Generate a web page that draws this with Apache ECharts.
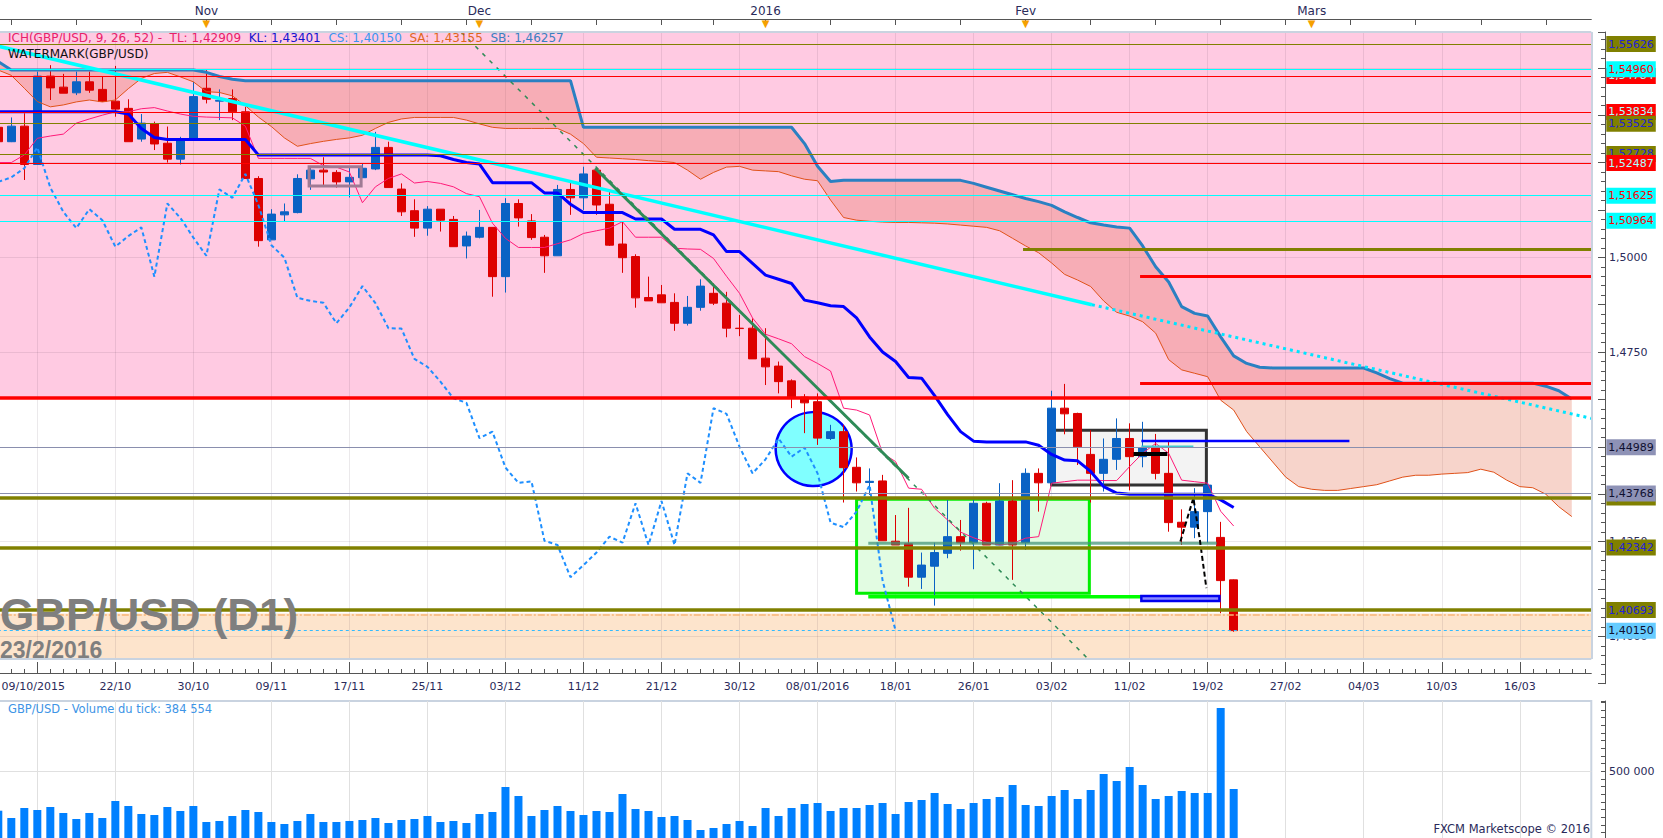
<!DOCTYPE html>
<html><head><meta charset="utf-8">
<script src="https://cdn.jsdelivr.net/npm/echarts@6.0.0/dist/echarts.min.js"></script>
<style>html,body{margin:0;padding:0;background:#fff}#c{width:1663px;height:838px}</style>
</head><body><div id="c"></div>
<script>
// ---------------- DATA ----------------
const dates = ['09/10','12/10','13/10','14/10','15/10','16/10','19/10','20/10','21/10','22/10',
'23/10','26/10','27/10','28/10','29/10','30/10','02/11','03/11','04/11','05/11',
'06/11','09/11','10/11','11/11','12/11','13/11','16/11','17/11','18/11','19/11',
'20/11','23/11','24/11','25/11','26/11','27/11','30/11','01/12','02/12','03/12',
'04/12','07/12','08/12','09/12','10/12','11/12','14/12','15/12','16/12','17/12',
'18/12','21/12','22/12','23/12','24/12','28/12','29/12','30/12','31/12','04/01',
'05/01','06/01','07/01','08/01','11/01','12/01','13/01','14/01','15/01','18/01',
'19/01','20/01','21/01','22/01','25/01','26/01','27/01','28/01','29/01','01/02',
'02/02','03/02','04/02','05/02','08/02','09/02','10/02','11/02','12/02','15/02',
'16/02','17/02','18/02','19/02','22/02','23/02'];

const open = [1.5343,1.5305,1.5346,1.5245,1.5478,1.5449,1.5434,1.5463,1.5443,1.5412,
1.5393,1.5312,1.5352,1.5301,1.5259,1.5311,1.5446,1.5412,1.5419,1.5384,
1.5208,1.5046,1.5112,1.5118,1.5207,1.5230,1.5224,1.5199,1.5210,1.5233,
1.5290,1.5180,1.5123,1.5077,1.5127,1.5100,1.5030,1.5053,1.5079,1.4949,
1.5142,1.5096,1.5053,1.5004,1.5179,1.5157,1.5230,1.5140,1.5035,1.5002,
1.4894,1.4901,1.4881,1.4826,1.4868,1.4905,1.4879,1.4813,1.4813,1.4734,
1.4713,1.4674,1.4631,1.4619,1.4522,1.4540,1.4446,1.4406,1.4410,1.4251,
1.4244,1.4156,1.4185,1.4219,1.4263,1.4247,1.4351,1.4241,1.4357,1.4247,
1.4430,1.4405,1.4602,1.4588,1.4480,1.4430,1.4467,1.4522,1.4474,1.4498,
1.4430,1.4301,1.4288,1.4329,1.4261,1.4149];

const close = [1.5305,1.5346,1.5245,1.5478,1.5447,1.5433,1.5463,1.5441,1.5411,1.5391,
1.5305,1.5354,1.5299,1.5259,1.5309,1.5424,1.5417,1.5414,1.5384,1.5208,
1.5044,1.5114,1.5120,1.5208,1.5230,1.5225,1.5199,1.5211,1.5235,1.5290,
1.5184,1.5120,1.5077,1.5127,1.5098,1.5028,1.5056,1.5079,1.4949,1.5142,
1.5104,1.5052,1.5004,1.5179,1.5157,1.5220,1.5138,1.5032,1.4999,1.4893,
1.4885,1.4880,1.4826,1.4868,1.4924,1.4879,1.4813,1.4812,1.4732,1.4711,
1.4672,1.4628,1.4616,1.4523,1.4540,1.4445,1.4405,1.4409,1.4252,1.4241,
1.4156,1.4188,1.4221,1.4263,1.4247,1.4351,1.4241,1.4357,1.4241,1.4430,
1.4405,1.4602,1.4587,1.4500,1.4430,1.4467,1.4522,1.4474,1.4498,1.4430,
1.4300,1.4288,1.4329,1.4399,1.4147,1.4015];

const high = [1.5365,1.5369,1.5380,1.5490,1.5507,1.5484,1.5490,1.5490,1.5477,1.5505,
1.5417,1.5378,1.5358,1.5345,1.5318,1.5463,1.5494,1.5443,1.5443,1.5397,
1.5214,1.5127,1.5142,1.5219,1.5241,1.5264,1.5230,1.5239,1.5246,1.5331,
1.5305,1.5195,1.5153,1.5135,1.5127,1.5109,1.5068,1.5125,1.5079,1.5156,
1.5153,1.5114,1.5059,1.5191,1.5199,1.5239,1.5230,1.5179,1.5094,1.5008,
1.4949,1.4927,1.4905,1.4898,1.4942,1.4931,1.4909,1.4848,1.4839,1.4813,
1.4725,1.4678,1.4639,1.4641,1.4558,1.4558,1.4472,1.4443,1.4426,1.4320,
1.4339,1.4221,1.4247,1.4360,1.4307,1.4361,1.4355,1.4404,1.4412,1.4443,
1.4443,1.4648,1.4666,1.4590,1.4544,1.4522,1.4575,1.4562,1.4566,1.4534,
1.4513,1.4335,1.4391,1.4408,1.4302,1.4150];

const low = [1.5290,1.5304,1.5204,1.5244,1.5415,1.5433,1.5428,1.5434,1.5410,1.5371,
1.5305,1.5305,1.5283,1.5250,1.5245,1.5311,1.5406,1.5362,1.5362,1.5208,
1.5028,1.5046,1.5094,1.5116,1.5178,1.5186,1.5184,1.5158,1.5210,1.5230,
1.5184,1.5109,1.5054,1.5057,1.5068,1.5028,1.4997,1.5050,1.4896,1.4907,
1.5081,1.5046,1.4959,1.5004,1.5112,1.5125,1.5112,1.5030,1.4959,1.4867,
1.4885,1.4880,1.4806,1.4820,1.4859,1.4874,1.4789,1.4792,1.4732,1.4663,
1.4641,1.4602,1.4536,1.4505,1.4518,1.4353,1.4382,1.4373,1.4252,1.4241,
1.4131,1.4125,1.4081,1.4206,1.4226,1.4177,1.4241,1.4241,1.4149,1.4228,
1.4329,1.4405,1.4533,1.4452,1.4353,1.4382,1.4439,1.4385,1.4446,1.4414,
1.4276,1.4241,1.4259,1.4247,1.4061,1.4012];

const volume = [243200,195600,260800,247800,267300,228200,189100,228200,195600,306400,
273800,221700,215200,267300,241200,273800,169500,176000,208600,247800,
234700,169500,156500,176000,221700,169500,169500,176000,182600,195600,
163000,182600,189100,208600,169500,176000,163000,221700,234700,397700,
339000,208600,247800,273800,241200,215200,241200,234700,352100,254300,
241200,202100,208600,182600,117400,130400,156500,176000,143400,260800,
208600,260800,286900,293400,241200,260800,260800,280400,293400,221700,
299900,313000,358600,286900,254300,293400,319500,332500,410800,280400,
273800,339000,378200,319500,378200,482500,436800,528100,410800,319500,
339000,371600,358600,358600,912800,384554];

// Ichimoku
const tenkan = [1.5250,1.5250,1.5270,1.5314,1.5320,1.5325,1.5354,1.5365,1.5375,1.5384,
1.5384,1.5392,1.5395,1.5386,1.5378,1.5372,1.5370,1.5369,1.5368,1.5346,
1.5261,1.5261,1.5261,1.5261,1.5261,1.5242,1.5238,1.5225,1.5144,1.5186,
1.5208,1.5220,1.5196,1.5200,1.5195,1.5186,1.5168,1.5160,1.5090,1.5050,
1.5026,1.5026,1.5026,1.5036,1.5046,1.5063,1.5070,1.5077,1.5094,1.5053,
1.5053,1.5053,1.5024,1.5022,1.5021,1.4997,1.4950,1.4905,1.4840,1.4797,
1.4785,1.4772,1.4738,1.4720,1.4700,1.4602,1.4597,1.4584,1.4483,1.4461,
1.4391,1.4388,1.4338,1.4307,1.4275,1.4260,1.4248,1.4241,1.4245,1.4259,
1.4263,1.4404,1.4408,1.4412,1.4412,1.4411,1.4411,1.4448,1.4483,1.4509,
1.4483,1.4412,1.4408,1.4404,1.4330,1.4291];

const kijun = [1.5384,1.5384,1.5384,1.5384,1.5384,1.5384,1.5384,1.5384,1.5384,1.5384,
1.5378,1.5340,1.5316,1.5311,1.5311,1.5311,1.5311,1.5311,1.5311,1.5311,
1.5270,1.5270,1.5270,1.5270,1.5270,1.5270,1.5270,1.5270,1.5270,1.5270,
1.5270,1.5270,1.5270,1.5270,1.5268,1.5258,1.5250,1.5246,1.5197,1.5197,
1.5197,1.5197,1.5170,1.5170,1.5140,1.5118,1.5118,1.5118,1.5118,1.5101,
1.5101,1.5101,1.5074,1.5074,1.5074,1.5059,1.5015,1.5015,1.4984,1.4953,
1.4942,1.4931,1.4887,1.4880,1.4872,1.4870,1.4840,1.4790,1.4750,1.4725,
1.4683,1.4681,1.4635,1.4585,1.4540,1.4515,1.4513,1.4513,1.4513,1.4513,
1.4504,1.4480,1.4465,1.4463,1.4435,1.4395,1.4378,1.4375,1.4375,1.4375,
1.4375,1.4375,1.4375,1.4375,1.4360,1.4340];

const chikou = [1.5199,1.5211,1.5235,1.5290,1.5184,1.5120,1.5077,1.5127,1.5098,1.5028,
1.5056,1.5079,1.4949,1.5142,1.5104,1.5052,1.5004,1.5179,1.5157,1.5220,
1.5138,1.5032,1.4999,1.4893,1.4885,1.4880,1.4826,1.4868,1.4924,1.4879,
1.4813,1.4812,1.4732,1.4711,1.4672,1.4628,1.4616,1.4523,1.4540,1.4445,
1.4405,1.4409,1.4252,1.4241,1.4156,1.4188,1.4221,1.4263,1.4247,1.4351,
1.4241,1.4357,1.4241,1.4430,1.4405,1.4602,1.4587,1.4500,1.4430,1.4467,
1.4522,1.4474,1.4498,1.4430,1.4300,1.4288,1.4329,1.4399,1.4147,1.4015];

const spanA = [1.5494,1.5480,1.5446,1.5411,1.5397,1.5402,1.5410,1.5415,1.5410,1.5415,
1.5445,1.5472,1.5485,1.5488,1.5476,1.5463,1.5437,1.5435,1.5426,1.5400,
1.5370,1.5345,1.5315,1.5293,1.5300,1.5306,1.5311,1.5315,1.5322,1.5340,
1.5356,1.5365,1.5369,1.5369,1.5369,1.5369,1.5362,1.5352,1.5343,1.5340,
1.5340,1.5340,1.5340,1.5340,1.5325,1.5300,1.5264,1.5262,1.5260,1.5258,
1.5255,1.5253,1.5250,1.5230,1.5206,1.5224,1.5238,1.5240,1.5230,1.5228,
1.5226,1.5215,1.5206,1.5202,1.5151,1.5105,1.5098,1.5095,1.5093,1.5092,
1.5092,1.5091,1.5090,1.5088,1.5085,1.5082,1.5079,1.5070,1.5050,1.5030,
1.5012,1.4985,1.4955,1.4940,1.4923,1.4885,1.4855,1.4845,1.4830,1.4800,
1.4730,1.4703,1.4694,1.4685,1.4623,1.4597,1.4540,1.4500,1.4460,1.4420,
1.4395,1.4388,1.4385,1.4385,1.4390,1.4395,1.4400,1.4410,1.4420,1.4425,
1.4425,1.4428,1.4430,1.4432,1.4441,1.4433,1.4412,1.4395,1.4392,1.4375,
1.4342,1.4316];

const spanB = [1.5516,1.5494,1.5494,1.5494,1.5494,1.5494,1.5494,1.5494,1.5494,1.5494,
1.5494,1.5494,1.5494,1.5494,1.5494,1.5494,1.5488,1.5477,1.5470,1.5466,
1.5466,1.5466,1.5466,1.5466,1.5466,1.5466,1.5466,1.5466,1.5466,1.5466,
1.5466,1.5466,1.5466,1.5466,1.5466,1.5466,1.5466,1.5466,1.5466,1.5466,
1.5466,1.5466,1.5466,1.5466,1.5466,1.5343,1.5343,1.5343,1.5343,1.5343,
1.5343,1.5343,1.5343,1.5343,1.5343,1.5343,1.5343,1.5343,1.5343,1.5343,
1.5343,1.5343,1.5300,1.5240,1.5200,1.5203,1.5203,1.5203,1.5203,1.5203,
1.5203,1.5203,1.5203,1.5203,1.5203,1.5195,1.5185,1.5175,1.5165,1.5155,
1.5147,1.5137,1.5120,1.5105,1.5091,1.5085,1.5080,1.5077,1.5030,1.4975,
1.4935,1.4870,1.4852,1.4845,1.4790,1.4740,1.4720,1.4710,1.4708,1.4708,
1.4708,1.4708,1.4708,1.4708,1.4708,1.4708,1.4695,1.4680,1.4668,1.4668,
1.4668,1.4668,1.4668,1.4668,1.4668,1.4668,1.4668,1.4668,1.4668,1.4660,
1.4648,1.4626];

// horizontal levels (with right-hand labels)
const levelValues = [1.55626,1.54784,1.54960,1.53834,1.53525,1.52728,1.52487,1.51625,1.50964,1.44989,1.43665,1.43768,1.42342,1.40693,1.40150];
const levelKinds  = ['olive','red','cyan','red','olive','olive','red','cyan','cyan','grey','oliveThick','grey','oliveThick','oliveThick','current'];

// axis labels
const bottomLabelIdx = [0,9,15,21,27,33,39,45,51,57,63,69,75,81,87,93,99,105,111,117];
const bottomLabelText = ['09/10/2015','22/10','30/10','09/11','17/11','25/11','03/12','11/12','21/12','30/12','08/01/2016','18/01','26/01','03/02','11/02','19/02','27/02','04/03','10/03','16/03'];
const priceTickLabels = [1.4, 1.425, 1.475, 1.5];
const monthIdx = [16,37,59,79,101];
const monthText = ['Nov','Dec','2016','Fev','Mars'];
const weekIdx = [1,6,11,16,21,26,31,36,41,46,51,55,59,64,69,74,79,84,89,94,99,104,109,114,119];
const gridIdx = [3,9,15,21,27,33,39,45,51,57,63,69,75,81,87,93,99,105,111,117];

// drawn annotations (in bar index / price units)
const cyanTrend = [[-0.5,1.5561],[84.1,1.4875]];
const cyanTrendExt = [[84.1,1.4875],[122.5,1.4575]];
const greenDashed = [[35.6,1.5594],[83.7,1.3944]];
const greenSolid = [[45.9,1.5235],[70.0,1.4417]];
const zigzag = [[90.9,1.4250],[91.9,1.4365],[92.4,1.4254],[92.9,1.4127]];
const circleAt = [62.7,1.4494];
const greyBox = [[81.0,1.4544],[92.9,1.4399]];
const greenBox = [[66.0,1.43615],[83.9,1.41135]];
const blueBox = [[87.9,1.41063],[93.9,1.40931]];
const smallBox = [[23.9,1.5239],[27.9,1.5188]];
const segBlack = [[87.3,1.4481],[89.9,1.4481]];
const segTeal = [[87.9,1.4500],[91.9,1.4500]];
const segBlue = [[87.9,1.45153],[103.9,1.45153]];
const segLime = [[66.9,1.41045],[87.9,1.41045]];
const segSea = [[66.9,1.42454],[93.7,1.42454]];

// ---------------- CHART ----------------
const NCAT = 123;
const cats = [];
for (let i = 0; i < NCAT; i++) cats.push(i < dates.length ? dates[i] : ('+' + (i - dates.length + 1)));
const YMIN = 1.3875, YMAX = 1.559446, PLOT_BOTTOM = 1.39401;
const FONT = 'DejaVu Sans';
const AXC = '#2a2a5a';

const chart = echarts.init(document.getElementById('c'), null, {renderer: 'svg', width: 1663, height: 838});

const levelStyle = {
  olive: {line:'#808000', w:1, bg:'#808000', fg:'#2323d8'},
  oliveThick: {line:'#808000', w:3.5, bg:'#808000', fg:'#2323d8'},
  red: {line:'#ff0000', w:1, bg:'#ff0000', fg:'#aaffff'},
  cyan: {line:'#00ffff', w:1, bg:'#00ffff', fg:'#ff0000'},
  grey: {line:'#8a8fae', w:1, bg:'#8e92b6', fg:'#101030'},
  current: {line:'#33bbff', w:1, bg:'#66ccff', fg:'#101030', type:[3,3]}
};
const fmt5 = v => v.toFixed(5).replace('.', ',');

const levelLines = levelValues.map((v, k) => {
  const s = levelStyle[levelKinds[k]];
  return {yAxis: v, lineStyle: {color: s.line, width: s.w, type: s.type || 'solid'},
    label: {show: true, position: 'end', distance: 15, formatter: fmt5(v), backgroundColor: s.bg,
      color: s.fg, padding: [2,2,1,2], fontSize: 11, fontFamily: FONT, lineHeight: 13}};
});
const plainLines = [
  {yAxis: 1.4629, lineStyle: {color:'#ff0000', width:3.5, type:'solid'}, label:{show:false}},
  {yAxis: 1.4058, lineStyle: {color:'#f7b575', width:1.5, type:[7,2,2,2]}, label:{show:false}},
  [{coord:[78.8,1.5020], lineStyle:{color:'#808000', width:3, type:'solid'}, label:{show:false}}, {coord:[122.5,1.5020]}],
  [{coord:[87.8,1.4949], lineStyle:{color:'#ff0000', width:3, type:'solid'}, label:{show:false}}, {coord:[122.5,1.4949]}],
  [{coord:[87.8,1.4669], lineStyle:{color:'#ff0000', width:3, type:'solid'}, label:{show:false}}, {coord:[122.5,1.4669]}]
];

const box = (b, st) => [{coord: b[0], itemStyle: st}, {coord: b[1]}];
const seg = (pts, color, width, type, z) => ({type:'line', xAxisIndex:2, yAxisIndex:0, data: pts, symbol:'none',
  silent:true, z: z || 3.5, lineStyle:{color, width, type: type || 'solid'}, clip: true});

const series = [
  // backgrounds
  {type:'line', xAxisIndex:2, yAxisIndex:0, data:[], silent:true, z:0,
   markArea:{silent:true, z:0.5, label:{show:false}, data:[
     box([[-0.5,1.4629],[122.5,YMAX]], {color:'#ffcae2'}),
     box([[-0.5,PLOT_BOTTOM],[122.5,1.4060]], {color:'#fde4cc'})
   ]}},
  // grid lines
  {type:'line', xAxisIndex:2, yAxisIndex:0, data:[], silent:true, z:0,
   markLine:{silent:true, z:0.6, precision:6, symbol:['none','none'], label:{show:false},
     lineStyle:{color:'rgba(60,40,60,0.10)', width:1, type:'solid'},
     data: gridIdx.map(i => [{coord:[i, PLOT_BOTTOM]}, {coord:[i, YMAX]}])
       .concat([1.4,1.425,1.45,1.475,1.5,1.525,1.55].map(v => ({yAxis: v})))}},
  // cloud fill (stacked between span A and span B)
  {type:'line', xAxisIndex:0, yAxisIndex:0, stack:'cloud', data: spanA, symbol:'none', silent:true, z:1,
   lineStyle:{opacity:0}},
  {type:'line', xAxisIndex:0, yAxisIndex:0, stack:'cloud', data: spanB.map((b, i) => +(b - spanA[i]).toFixed(5)),
   symbol:'none', silent:true, z:1, lineStyle:{opacity:0}, areaStyle:{color:'rgba(228,100,70,0.28)', opacity:1}},
  // filled boxes under the candles
  {type:'line', xAxisIndex:2, yAxisIndex:0, data:[], silent:true, z:1,
   markArea:{silent:true, z:1.1, label:{show:false}, data:[
     box(greyBox, {color:'#f3f3f3', borderColor:'#333333', borderWidth:3}),
     box(greenBox, {color:'#e2fce2', borderColor:'#00ee00', borderWidth:3})
   ]}},
  // circle
  {type:'scatter', xAxisIndex:2, yAxisIndex:0, data:[circleAt], symbol:'circle', symbolSize:[76,74], silent:true, z:1.2,
   itemStyle:{color:'#80ffff', borderColor:'#0000ff', borderWidth:2.5, opacity:1}},
  // candles
  {type:'candlestick', xAxisIndex:0, yAxisIndex:0, z:2, barWidth:8, silent:true,
   data: open.map((o, i) => [o, close[i], low[i], high[i]]),
   itemStyle:{color:'#0a62c4', color0:'#dd0000', borderColor:'#0a62c4', borderColor0:'#dd0000', borderWidth:1}},
  // ichimoku
  {type:'line', xAxisIndex:0, yAxisIndex:0, data: spanA, symbol:'none', silent:true, z:3, lineStyle:{color:'#e0521a', width:1}},
  {type:'line', xAxisIndex:0, yAxisIndex:0, data: spanB, symbol:'none', silent:true, z:3, lineStyle:{color:'#2a80c2', width:3}},
  {type:'line', xAxisIndex:0, yAxisIndex:0, data: chikou, symbol:'none', silent:true, z:3, lineStyle:{color:'#1e8fff', width:2, type:[4,3]}},
  {type:'line', xAxisIndex:0, yAxisIndex:0, data: tenkan, symbol:'none', silent:true, z:3, lineStyle:{color:'#ff1a78', width:1}},
  {type:'line', xAxisIndex:0, yAxisIndex:0, data: kijun, symbol:'none', silent:true, z:3, lineStyle:{color:'#0000ff', width:3}},
  // trend lines & segments
  seg(cyanTrend, '#00ffff', 3.5),
  seg(cyanTrendExt, '#00e5ff', 3, [3,4]),
  seg(greenDashed, '#2e8b57', 1.5, [4,6]),
  seg(greenSolid, '#2e8b57', 3),
  seg(segSea, 'rgba(70,150,120,0.75)', 3),
  seg(segLime, '#00ff00', 3.5),
  seg(segBlue, '#0000ff', 2.5),
  seg(segTeal, '#40c8d0', 2.5),
  seg(segBlack, '#000000', 4),
  seg(zigzag, '#000000', 2, [5,3]),
  {type:'line', xAxisIndex:2, yAxisIndex:0, data:[], silent:true, z:3.6,
   markArea:{silent:true, z:3.6, label:{show:false}, data:[
     box(blueBox, {color:'#8a8aff', borderColor:'#0000ee', borderWidth:2.5}),
     box(smallBox, {color:'rgba(0,0,0,0)', borderColor:'#a07a94', borderWidth:3})
   ]}},
  // levels
  {type:'line', xAxisIndex:2, yAxisIndex:0, data:[], silent:true, z:4, clip:false,
   markLine:{silent:true, z:4, precision:6, symbol:['none','none'], data: plainLines.concat(levelLines)}},
  // panel borders
  {type:'line', xAxisIndex:2, yAxisIndex:0, data:[], silent:true, z:4, clip:false,
   markLine:{silent:true, z:4.5, precision:6, symbol:['none','none'], label:{show:false},
     lineStyle:{color:'#c9d3e0', width:2, type:'solid'},
     data:[[{coord:[-0.5,PLOT_BOTTOM]},{coord:[122.5,PLOT_BOTTOM]}],
           [{coord:[122.5,PLOT_BOTTOM]},{coord:[122.5,YMAX]}],
           [{coord:[-0.5,YMAX]},{coord:[122.5,YMAX]}]]}},
  // volume
  {type:'bar', xAxisIndex:4, yAxisIndex:1, data: volume, barWidth:8, silent:true, z:2,
   itemStyle:{color:'#0080ff'},
   markLine:{silent:true, z:0.6, precision:6, symbol:['none','none'], label:{show:false},
     lineStyle:{color:'#e0e0e0', width:1, type:'solid'},
     data: gridIdx.map(i => ({xAxis: i})).concat([{yAxis: 500000}])}}
];

const R = (c) => ({color:c, fontSize:12, fontFamily:FONT, fontWeight:'normal'});
const option = {
  animation: false,
  backgroundColor: '#ffffff',
  textStyle: {fontFamily: FONT},
  title: [
    {left:8, top:32, padding:0,
     text:'{a|ICH(GBP/USD, 9, 26, 52) -  TL: 1,42909}  {b|KL: 1,43401}  {c|CS: 1,40150}  {d|SA: 1,43155}  {e|SB: 1,46257}',
     textStyle:{fontSize:12, fontFamily:FONT, fontWeight:'normal', rich:{
       a:R('#e8206a'), b:R('#1414d0'), c:R('#3a96f0'), d:R('#e0661e'), e:R('#3a80c0')}}},
    {left:8, top:48, padding:0, text:'WATERMARK(GBP/USD)', textStyle:{color:'#111', fontSize:12, fontWeight:'normal', fontFamily:FONT}},
    {left:0, top:592, padding:0, text:'GBP/USD (D1)', textStyle:{color:'#7f7f7f', fontSize:44, fontWeight:'bold', fontFamily:'Liberation Sans'}},
    {left:0, top:638, padding:0, text:'23/2/2016', textStyle:{color:'#7f7f7f', fontSize:23, fontWeight:'bold', fontFamily:'Liberation Sans'}},
    {left:8, top:703, padding:0, text:'GBP/USD - Volume du tick: 384 554', textStyle:{color:'#3d94e6', fontSize:11.5, fontWeight:'normal', fontFamily:FONT}},
    {right:73, top:823, padding:0, text:'FXCM Marketscope © 2016', textStyle:{color:AXC, fontSize:11.5, fontWeight:'normal', fontFamily:FONT}}
  ],
  grid: [
    {left:-8.2, right:71.7, top:32, bottom:154.3, containLabel:false, outerBoundsMode:'none'},
    {left:-8.2, right:71.7, top:701, bottom:-2.33, containLabel:false, outerBoundsMode:'none',
     show:true, backgroundColor:'rgba(0,0,0,0)', borderColor:'#c9d3e0', borderWidth:2}
  ],
  xAxis: [
    {type:'category', gridIndex:0, data:cats, position:'bottom', offset:-10.7, boundaryGap:true,
     axisLine:{show:true, onZero:false, lineStyle:{color:'#555', width:1}},
     axisTick:{show:true, inside:true, length:4, interval:0, alignWithLabel:true, lineStyle:{color:'#555'}},
     axisLabel:{show:true, margin:8, color:AXC, fontSize:11, fontFamily:FONT,
       interval:(i) => bottomLabelIdx.indexOf(i) >= 0,
       formatter:(v, i) => { const k = bottomLabelIdx.indexOf(i); if (k < 0) return ''; return k === 0 ? '{f|' + bottomLabelText[0] + '}' : bottomLabelText[k]; },
       rich:{f:{padding:[0,0,0,70], color:AXC, fontSize:11, fontFamily:FONT}}},
     splitLine:{show:false}},
    {type:'category', gridIndex:0, data:cats, position:'top', offset:13, boundaryGap:true,
     axisLine:{show:true, onZero:false, lineStyle:{color:'#555', width:1}},
     axisTick:{show:true, inside:true, length:6, alignWithLabel:true, interval:(i) => weekIdx.indexOf(i) >= 0, lineStyle:{color:'#555'}},
     axisLabel:{show:true, margin:-9, color:AXC, fontSize:12, fontFamily:FONT,
       interval:(i) => monthIdx.indexOf(i) >= 0,
       formatter:(v, i) => { const k = monthIdx.indexOf(i); return k < 0 ? '' : '{t|' + monthText[k] + '}\n{m|▼}'; },
       rich:{t:{color:AXC, fontSize:12, fontFamily:FONT, lineHeight:14}, m:{color:'#f5a000', fontSize:10, fontFamily:FONT, lineHeight:10}}},
     splitLine:{show:false}},
    {type:'value', gridIndex:0, min:-0.5, max:122.5, show:false, splitLine:{show:false}},
    {type:'category', gridIndex:0, data:cats, position:'bottom', offset:-10.7, boundaryGap:true,
     axisLine:{show:false}, axisLabel:{show:false}, splitLine:{show:false},
     axisTick:{show:true, inside:true, length:11, alignWithLabel:true, interval:(i) => gridIdx.indexOf(i) >= 0, lineStyle:{color:'#555'}}},
    {type:'category', gridIndex:1, data:cats, boundaryGap:true, axisLine:{show:false}, axisTick:{show:false},
     axisLabel:{show:false}, splitLine:{show:false}}
  ],
  yAxis: [
    {type:'value', gridIndex:0, position:'right', offset:13.7, min:YMIN, max:YMAX, interval:0.0125, scale:true,
     axisLine:{show:true, onZero:false, lineStyle:{color:'#555'}},
     axisTick:{show:true, inside:true, length:7, lineStyle:{color:'#555'}},
     minorTick:{show:true, splitNumber:5, length:4, lineStyle:{color:'#555'}},
     axisLabel:{show:true, margin:4, color:AXC, fontSize:11, fontFamily:FONT,
       formatter:(v) => priceTickLabels.some(p => Math.abs(p - v) < 1e-7) ? v.toFixed(4).replace('.', ',') : ''},
     splitLine:{show:false}, minorSplitLine:{show:false}},
    {type:'value', gridIndex:1, position:'right', offset:13.7, min:50000, max:958440, interval:50000,
     axisLine:{show:true, onZero:false, lineStyle:{color:'#555'}},
     axisTick:{show:true, inside:true, length:4, lineStyle:{color:'#555'}},
     axisLabel:{show:true, margin:4, color:AXC, fontSize:11, fontFamily:FONT,
       formatter:(v) => Math.abs(v - 500000) < 1 ? '500 000' : ''},
     splitLine:{show:false}}
  ],
  series: series
};
chart.setOption(option);
</script></body></html>
